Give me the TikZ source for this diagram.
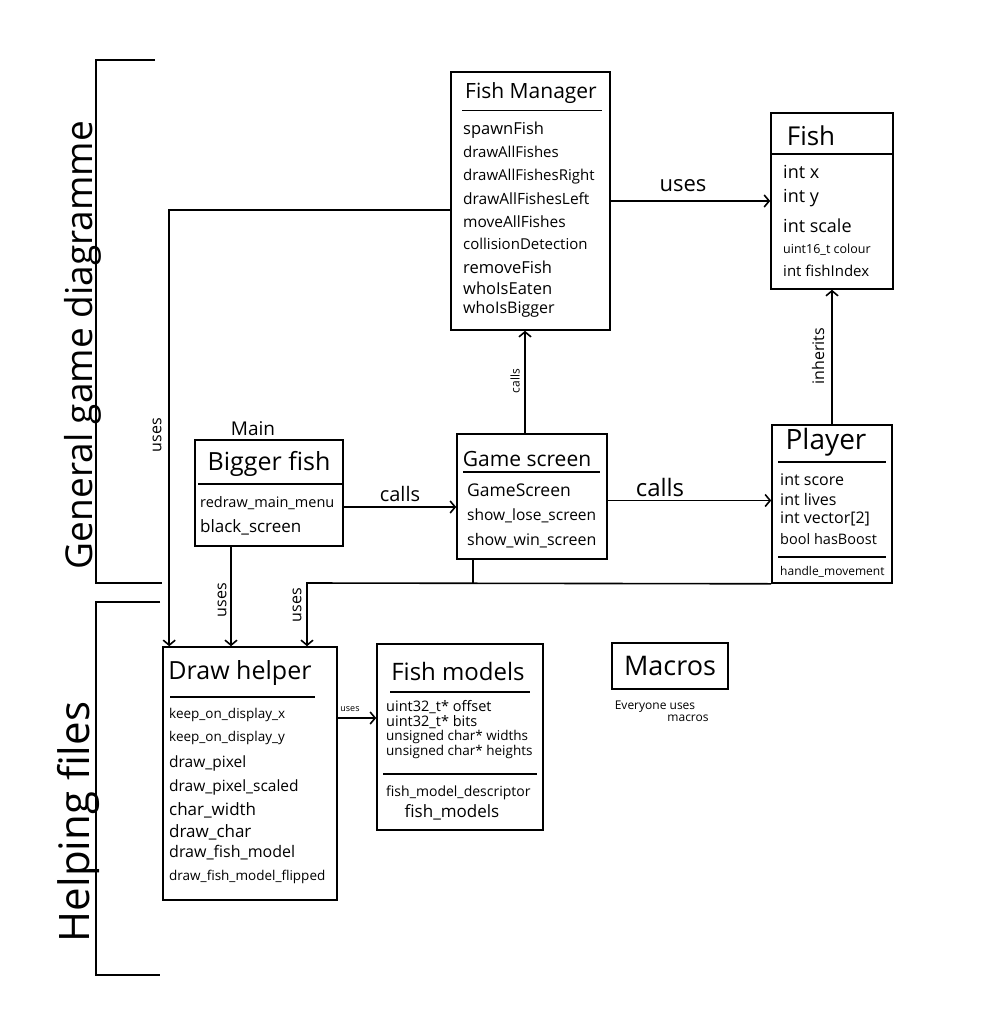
\documentclass[tikz,border=0pt]{standalone}
\usepackage{fontspec}
\setmainfont{Open Sans}
\usetikzlibrary{arrows.meta}
\newcommand{\fs}[1]{\fontsize{#1}{#1}\selectfont}
\tikzset{
  box/.style={draw, line width=1.6pt, inner sep=0pt},
  lw/.style={line width=1.6pt},
  sepline/.style={line width=1.4pt},
  arr/.style={line width=1.6pt, -{Straight Barb[length=5pt,width=12pt]}},
  ent/.style={anchor=west, inner sep=0pt},
  lbl/.style={inner sep=0pt},
}
\begin{document}
\begin{tikzpicture}[x=1pt,y=-1pt]
\useasboundingbox (0,0) rectangle (999,1027);

% boxes
\node[box, minimum width=159pt, minimum height=258pt] (fm) at (530.5,201) {};
\node[box, minimum width=122pt, minimum height=176pt] (fish) at (832,201) {};
\node[box, minimum width=120pt, minimum height=158pt] (player) at (832,504) {};
\node[box, minimum width=150pt, minimum height=125pt] (game) at (532,496.5) {};
\node[box, minimum width=148pt, minimum height=106pt] (big) at (269,493) {};
\node[box, minimum width=174pt, minimum height=253pt] (dh) at (250,773.5) {};
\node[box, minimum width=166pt, minimum height=186pt] (models) at (460,737) {};
\node[box, minimum width=116pt, minimum height=46pt, font=\fs{27}] (macros) at (670,666) {Macros};

% titles
\node[lbl, font=\fs{21}] (fmT) at (531,93) {Fish Manager};
\node[lbl, font=\fs{26}] (fishT) at (811,136) {Fish};
\node[lbl, font=\fs{28}] (playerT) at (826,442) {Player};
\node[lbl, font=\fs{21}] (gameT) at (527,459) {Game screen};
\node[lbl, font=\fs{25}] (bigT) at (269,464) {Bigger fish};
\node[lbl, font=\fs{25}] (dhT) at (240,673) {Draw helper};
\node[lbl, font=\fs{24}] (modelsT) at (458,671) {Fish models};
\node[lbl, font=\fs{19}] (mainT) at (253,429) {Main};

% separators
\draw[sepline] (462,110.5) -- (602,110.5);
\draw[sepline] (771,154) -- (893,154);
\draw[sepline] (778,462) -- (886,462);
\draw[sepline] (778,557) -- (886,557);
\draw[sepline] (463,472) -- (600,472);
\draw[sepline] (198,484) -- (342,484);
\draw[sepline] (170,697) -- (315,697);
\draw[sepline] (390,692) -- (530,692);
\draw[sepline] (383,774) -- (537,774);

% entries
\foreach \t/\y/\s [count=\i] in {spawnFish/130/16.5, drawAllFishes/152/15, drawAllFishesRight/177/15, drawAllFishesLeft/199/15.5, moveAllFishes/222/15.5, collisionDetection/244/15, removeFish/267/16.5, whoIsEaten/288/16.5, whoIsBigger/309/16}
  \node[ent, font=\fs{\s}] (fmE\i) at (463,\y) {\t};
\foreach \t/\y/\s [count=\i] in {int x/172/18, int y/198/18, int scale/226/18, uint16\_t colour/250/12.5, int fishIndex/271/15}
  \node[ent, font=\fs{\s}] (fishE\i) at (783,\y) {\t};
\foreach \t/\y/\s [count=\i] in {int score/480/16, int lives/499/16, int vector[2]/519/16, bool hasBoost/539/14.5, handle\_movement/572/12}
  \node[ent, font=\fs{\s}] (playerE\i) at (780,\y) {\t};
\foreach \t/\y/\s [count=\i] in {GameScreen/490/17.5, show\_lose\_screen/516/15.5, show\_win\_screen/541/16}
  \node[ent, font=\fs{\s}] (gameE\i) at (467,\y) {\t};
\foreach \t/\y/\s [count=\i] in {redraw\_main\_menu/503/14.5, black\_screen/527/17}
  \node[ent, font=\fs{\s}] (bigE\i) at (200,\y) {\t};
\foreach \t/\y/\s [count=\i] in {keep\_on\_display\_x/715/13.5, keep\_on\_display\_y/738/13.5, draw\_pixel/763/15.5, draw\_pixel\_scaled/787/15.5, char\_width/810/17, draw\_char/832/17, draw\_fish\_model/853/16, draw\_fish\_model\_flipped/877/13.5}
  \node[ent, font=\fs{\s}] (dhE\i) at (169,\y) {\t};
\foreach \t/\y/\s [count=\i] in {uint32\_t* offset/707/14.5, uint32\_t* bits/722/14.5, unsigned char* widths/737/13.5, unsigned char* heights/752/13.5, fish\_model\_descriptor/793/14}
  \node[ent, font=\fs{\s}] (modelsE\i) at (386,\y) {\t};
\node[lbl, font=\fs{17}] (modelsE6) at (452,812) {fish\_models};

\node[lbl, font=\fs{12}] (ev1) at (655,707) {Everyone uses};
\node[lbl, font=\fs{12}] (ev2) at (688,718) {macros};

% connectors
\draw[arr] (fm.east) -- (fish.west);
\node[lbl, font=\fs{22}] (l1) at (683,186) {uses};
\draw[arr] ([yshift=-9pt]fm.west) -| ([xshift=7pt]dh.north west);
\node[lbl, rotate=90, font=\fs{16}] (l2) at (157,435) {uses};
\draw[arr] ([xshift=-38pt]big.south) -- ([xshift=-38pt]big.south |- dh.north);
\node[lbl, rotate=90, font=\fs{16}] (l3) at (222,600) {uses};
\coordinate (j) at (307,583);
\draw[arr] (player.south west) -- (j) -- (j |- dh.north);
\draw[lw] ([xshift=-59pt]game.south) -- ([xshift=-59pt]game.south |- j);
\node[lbl, rotate=90, font=\fs{16}] (l4) at (297,605) {uses};
\draw[arr] ([yshift=-14pt]big.east) -- ([yshift=-14pt]big.east -| game.west);
\node[lbl, font=\fs{20}] (l5) at (400,494) {calls};
\draw[arr] ([yshift=-4pt]game.east) -- ([yshift=-4pt]game.east -| player.west);
\node[lbl, font=\fs{24}] (l6) at (660,487) {calls};
\draw[arr] ([xshift=-7pt]game.north) -- ([xshift=-7pt]game.north |- fm.south);
\node[lbl, rotate=90, font=\fs{12}] (l7) at (515,381) {calls};
\draw[arr] (player.north) -- (fish.south);
\node[lbl, rotate=90, font=\fs{16}] (l8) at (818,356) {inherits};
\draw[arr] ([yshift=55.5pt]dh.east) -- ([yshift=55.5pt]dh.east -| models.west);
\node[lbl, font=\fs{9}] (l9) at (350,709) {uses};

% section brackets
\draw[lw] (155,60) -- (96,60) -- (96,583) -- (162,583);
\draw[lw] (160,602) -- (96,602) -- (96,975) -- (160,975);
\node[lbl, rotate=90, anchor=base, font=\fs{37}] (gen) at (92,345) {General game diagramme};
\node[lbl, rotate=90, anchor=base, font=\fs{42}] (help) at (89,822) {Helping files};
\end{tikzpicture}
\end{document}
